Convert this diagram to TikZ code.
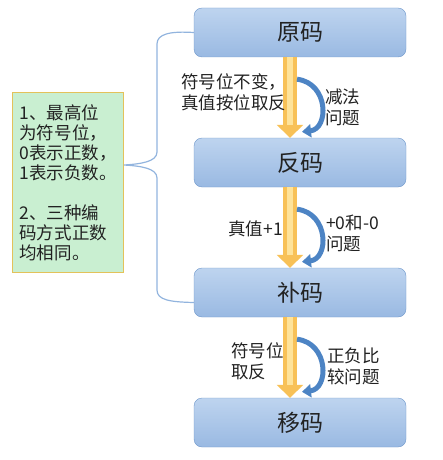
\documentclass[tikz,border=0pt]{standalone}
\usepackage{fontspec}
\setmainfont{Noto Sans CJK SC}
\usepackage{tikz}
\usetikzlibrary{positioning,arrows.meta}
\definecolor{boxtop}{HTML}{BED4EF}
\definecolor{boxbot}{HTML}{99B9E2}
\definecolor{boxline}{HTML}{6E97CB}
\definecolor{yelout}{HTML}{F8C157}
\definecolor{yelin}{HTML}{FEE39A}
\definecolor{arcblue}{HTML}{4D84C4}
\definecolor{notefill}{HTML}{C9EFD1}
\definecolor{noteline}{HTML}{E3C25A}
\definecolor{bracecol}{HTML}{92B4DE}
\definecolor{txt}{HTML}{222222}
\tikzstyle{code}=[draw=boxline, rounded corners=8pt, top color=boxtop, bottom color=boxbot, minimum height=49pt, minimum width=212pt, text=txt, font=\fontsize{23pt}{23pt}\selectfont]
\tikzstyle{note}=[draw=noteline, fill=notefill, minimum height=180pt, text width=97pt, inner xsep=7pt, align=left, text=txt, font=\fontsize{17.5pt}{20pt}\selectfont]
\tikzstyle{lbl}=[inner sep=0pt, align=left, text=txt, font=\fontsize{17.5pt}{21pt}\selectfont]
\tikzstyle{yel}=[draw=yelout, line width=14pt, -{Triangle[width=26pt,length=13pt]}]
\tikzstyle{yelmid}=[draw=yelin, line width=6pt, shorten >=13pt]
\tikzstyle{bluearc}=[draw=arcblue, line width=5pt, -{Triangle[width=13pt,length=9pt]}]
\tikzstyle{brace}=[draw=bracecol, line width=1.2pt]

\begin{document}
\begin{tikzpicture}[node distance=130pt,auto,>=latex]
\useasboundingbox (0,0) rectangle (443pt,-460pt);

  \node[code] at (300pt,-32.5pt) (yuan) {原码};
  \node[code, below of = yuan] (fan) {反码};
  \node[code, below of = fan] (bu) {补码};
  \node[code, below of = bu] (yi) {移码};

  \node[note] at (68pt,-182.5pt) (tip1) {1、最高位\\为符号位，\\0表示正数，\\1表示负数。\\[20pt]2、三种编\\码方式正数\\均相同。};

% yellow arrows between codes
\foreach \a/\b in {yuan/fan, fan/bu, bu/yi}{
  \draw[yel] ([xshift=-10pt]\a.south) -- ([xshift=-10pt]\b.north);
  \draw[yelmid] ([xshift=-10pt]\a.south) -- ([xshift=-10pt]\b.north);
  \draw[bluearc] ([xshift=-3pt,yshift=-22pt]\a.south) .. controls ([xshift=29pt,yshift=-26pt]\a.south) and ([xshift=29pt,yshift=9pt]\b.north) .. ([xshift=2pt,yshift=6pt]\b.north);
}

\node[lbl, anchor=west] at (181pt,-92.5pt) (op1) {符号位不变，\\真值按位取反};
\node[lbl, anchor=west] at (325pt,-107pt) (why1) {减法\\问题};

\node[lbl, anchor=east] at (283pt,-229pt) (op2) {真值+1};
\node[lbl, anchor=west] at (326pt,-233pt) (why2) {+0和-0\\问题};

\node[lbl, anchor=west] at (231pt,-361pt) (op3) {符号位\\取反};
\node[lbl, anchor=west] at (327pt,-366pt) (why3) {正负比\\较问题};

% brace from the note to the codes
\coordinate (bt) at (124pt,-165pt);
\draw[brace] (yuan.west) .. controls (170pt,-31pt) and (157pt,-34pt) .. (157pt,-44pt) -- (157pt,-152pt)
  .. controls (157pt,-162pt) and (140pt,-164pt) .. (bt)
  .. controls (140pt,-166pt) and (157pt,-168pt) .. (157pt,-178pt) -- (157pt,-290pt)
  .. controls (157pt,-300pt) and (170pt,-302pt) .. ([yshift=-10pt]bu.west);
\end{tikzpicture}
\end{document}
